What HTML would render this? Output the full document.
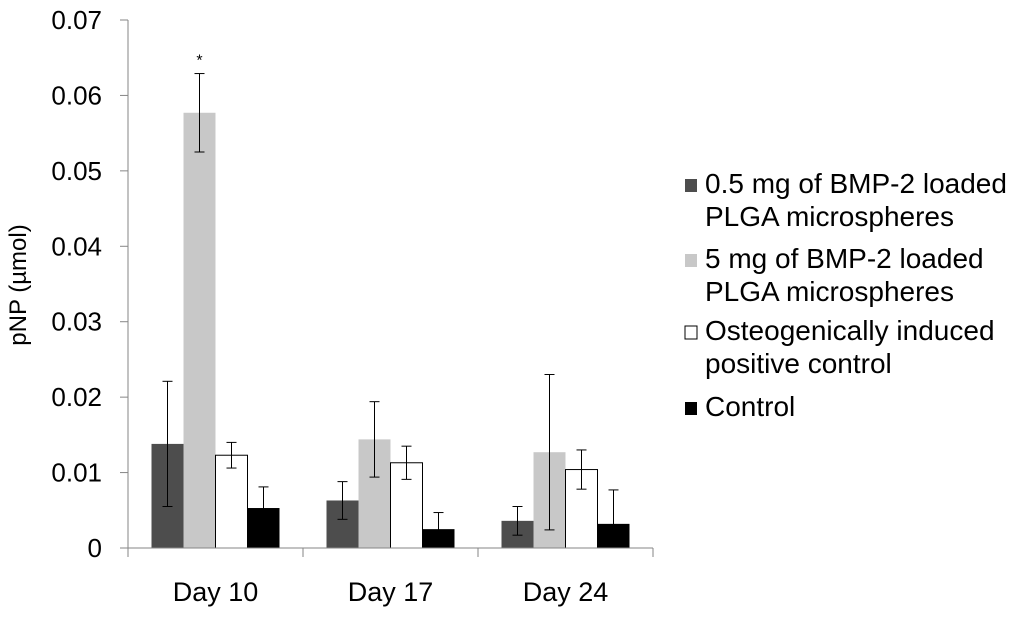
<!DOCTYPE html>
<html><head><meta charset="utf-8"><style>
body{margin:0;background:#fff;font-family:"Liberation Sans",sans-serif}
</style></head><body>
<svg id="chart" width="1024" height="613" xmlns="http://www.w3.org/2000/svg" font-family="Liberation Sans, sans-serif"></svg>
<script>
const categories=["Day 10","Day 17","Day 24"];
const seriesNames=["0.5 mg of BMP-2 loaded|PLGA microspheres","5 mg of BMP-2 loaded|PLGA microspheres","Osteogenically induced|positive control","Control"];
const s1=[0.0138,0.0063,0.0036];
const s2=[0.0577,0.0144,0.0127];
const s3=[0.0123,0.0113,0.0104];
const s4=[0.0053,0.0025,0.0032];
const e1=[0.0083,0.0025,0.0019];
const e2=[0.0052,0.0050,0.0103];
const e3=[0.0017,0.0022,0.0026];
const e4=[0.0028,0.0022,0.0045];
const yTicks=[0,0.01,0.02,0.03,0.04,0.05,0.06,0.07];
const yTickLabels=["0","0.01","0.02","0.03","0.04","0.05","0.06","0.07"];
const series=[s1,s2,s3,s4],errs=[e1,e2,e3,e4];
const fills=["#4d4d4d","#c8c8c8","#ffffff","#000000"];
const svg=document.getElementById('chart');const NS="http://www.w3.org/2000/svg";
const x0=128,x1=653,yb=548,yt=20,ymax=0.07;
const y=v=>yb-(v/ymax)*(yb-yt);
const band=(x1-x0)/categories.length,bw=32;
function mk(t,a,p){const e=document.createElementNS(NS,t);for(const k in a)e.setAttribute(k,a[k]);(p||svg).appendChild(e);return e;}
yTicks.forEach((t,i)=>{
 const l=mk('line',{x1:x0-8,x2:x0,y1:y(t),y2:y(t),stroke:'#868686'});
 
 
 const tx=mk('text',{x:102,y:y(t)+9,'text-anchor':'end','font-size':26});tx.textContent=yTickLabels[i];
 
 
});
const yt1=mk('text',{x:26,y:285,'text-anchor':'middle','font-size':24,transform:'rotate(-90 26 285)'});yt1.textContent='pNP (µmol)';


for(let i=0;i<=categories.length;i++){
 const l=mk('line',{x1:x0+i*band,x2:x0+i*band,y1:yb,y2:yb+9,stroke:'#868686'});
 
 
}
categories.forEach((c,ci)=>{
 const gx=x0+ci*band+(band-4*bw)/2;
 series.forEach((s,si)=>{
  const bx=gx+si*bw,v=s[ci];
  const r=mk('rect',{x:bx,y:y(v),width:bw,height:yb-y(v),fill:fills[si],stroke:si==2?'#000':'none','stroke-width':1});
  
  
  const e=errs[si][ci],cx=bx+bw/2;
  const g=mk('g',{stroke:'#000','stroke-width':1});
  
  
  mk('line',{x1:cx,x2:cx,y1:y(v+e),y2:y(Math.max(0,v-e))},g);
  mk('line',{x1:cx-5,x2:cx+5,y1:y(v+e),y2:y(v+e)},g);
  mk('line',{x1:cx-5,x2:cx+5,y1:y(Math.max(0,v-e)),y2:y(Math.max(0,v-e))},g);
 });
 const tx=mk('text',{x:x0+ci*band+band/2,y:601,'text-anchor':'middle','font-size':27});tx.textContent=c;
 
 
});
const st=mk('text',{x:x0+(band-4*bw)/2+bw*1.5,y:y(s2[0]+e2[0])-8,'text-anchor':'middle','font-size':16});st.textContent='*';


const ax=mk('line',{x1:x0,x2:x0,y1:yt,y2:yb,stroke:'#868686'});


const axx=mk('line',{x1:x0,x2:x1,y1:yb,y2:yb,stroke:'#868686'});


const ly=[193,268,340,416];
seriesNames.forEach((n,i)=>{
 const g=mk('g',{});
 
 
 mk('rect',{x:685,y:ly[i]-14,width:12,height:13,fill:fills[i],stroke:i==2?'#000':'none'},g);
 n.split('|').forEach((ln,j)=>{const t=mk('text',{x:705,y:ly[i]+j*33,'font-size':28},g);t.textContent=ln;});
});
</script>
</body></html>
